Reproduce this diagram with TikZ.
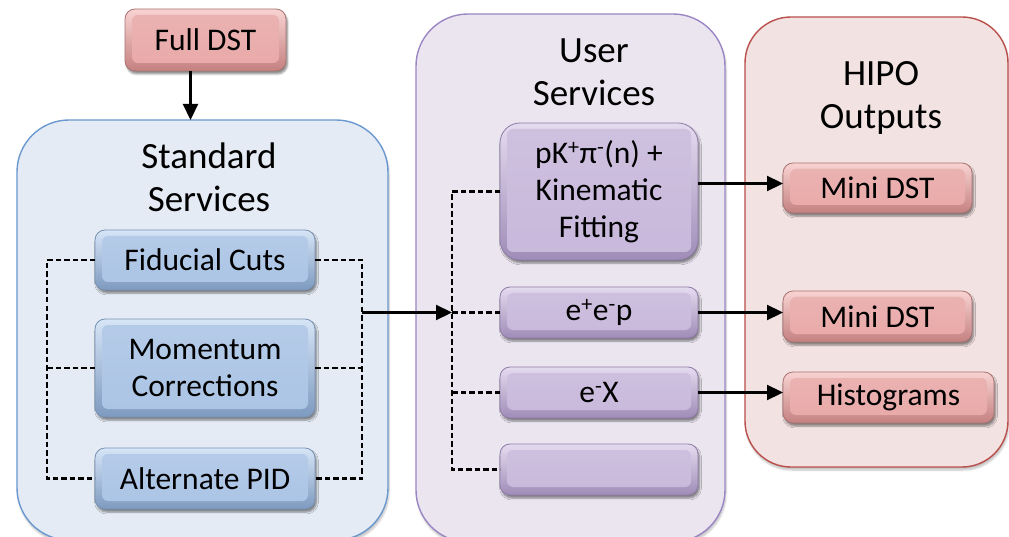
\documentclass[tikz,border=0pt]{standalone}
\usepackage{fontspec}
\setmainfont{Carlito}
\usetikzlibrary{arrows.meta,shadows.blur,calc}

\definecolor{stdFill}{HTML}{E4EBF4}
\definecolor{stdLine}{HTML}{6A99CF}
\definecolor{usrFill}{HTML}{EBE5F0}
\definecolor{usrLine}{HTML}{9B86C4}
\definecolor{hipoFill}{HTML}{F3E2E2}
\definecolor{hipoLine}{HTML}{B9504C}

\definecolor{bluTop}{HTML}{D6E5F7}
\definecolor{bluMid}{HTML}{ABC4E5}
\definecolor{bluBot}{HTML}{7E9AC0}
\definecolor{bluEdge}{HTML}{7A92B2}
\definecolor{redTop}{HTML}{F8D3D2}
\definecolor{redMid}{HTML}{E8A9A8}
\definecolor{redBot}{HTML}{C48180}
\definecolor{redEdge}{HTML}{A87372}
\definecolor{purTop}{HTML}{E4DBEF}
\definecolor{purMid}{HTML}{C8B8DB}
\definecolor{purBot}{HTML}{A08CB8}
\definecolor{purEdge}{HTML}{8E7DA6}

\tikzset{
  every node/.style={inner sep=0pt, outer sep=0pt},
  boxfont/.style={font=\fontsize{31.5}{37}\selectfont, align=center},
  titlefont/.style={font=\fontsize{37}{43}\selectfont, align=center},
  container/.style={rounded corners=52pt, line width=1.4pt,
    blur shadow={shadow xshift=1pt, shadow yshift=-3pt, shadow opacity=25, shadow blur steps=6}},
  stdcont/.style={container, fill=stdFill, draw=stdLine},
  usrcont/.style={container, fill=usrFill, draw=usrLine},
  hipocont/.style={container, fill=hipoFill, draw=hipoLine, rounded corners=46pt},
  % raised box: graded rim with a flat face inset a few points
  bevelbox/.style={boxfont, rounded corners=10pt, line width=0.8pt,
    blur shadow={shadow xshift=1.5pt, shadow yshift=-3pt, shadow opacity=45, shadow blur steps=5},
    path picture={\shade[top color=#1!88!white, bottom color=#1, rounded corners=6pt]
      ([shift={(7pt,-6pt)}]path picture bounding box.north west) rectangle
      ([shift={(-7pt,8pt)}]path picture bounding box.south east);}},
  bluebox/.style={bevelbox=bluMid, top color=bluTop, middle color=bluMid, bottom color=bluBot, draw=bluEdge},
  redbox/.style={bevelbox=redMid, top color=redTop, middle color=redMid, bottom color=redBot, draw=redEdge},
  purbox/.style={bevelbox=purMid, top color=purTop, middle color=purMid, bottom color=purBot, draw=purEdge},
  dbus/.style={draw=black, line width=2.2pt, dash pattern=on 5.5pt off 3pt},
  arr/.style={draw=black, line width=2.2pt, -{Triangle[length=16pt,width=15pt]}},
}

\begin{document}
\begin{tikzpicture}[x=1pt,y=-1pt]
\useasboundingbox (0,0) rectangle (1009,537);
\begin{scope}
\clip (0,0) rectangle (1009,537);

% containers
\node[stdcont, minimum width=371pt, minimum height=420pt] (std) at (202.5,330) {};
\node[usrcont, minimum width=309pt, minimum height=528pt] (usr) at (570.5,278) {};
\node[hipocont, minimum width=263pt, minimum height=450pt] (hipo) at (876.5,242) {};

\node[titlefont] (stdtitle) at (209,177) {Standard\\Services};
\node[titlefont] (usrtitle) at (594,72) {User\\Services};
\node[titlefont] (hipotitle) at (881,98) {HIPO\\Outputs};

% bus anchors
\coordinate (sl) at (47,0);
\coordinate (sr) at (362,0);
\coordinate (ub) at (452,0);

% standard services boxes
\node[bluebox, minimum width=220pt, minimum height=60pt] (fid) at (205,260) {Fiducial Cuts};
\node[bluebox, minimum width=220pt, minimum height=98pt] (mom) at (205,368) {Momentum\\Corrections};
\node[bluebox, minimum width=220pt, minimum height=61pt] (pid) at (205,478.5) {Alternate PID};

% input
\node[redbox, minimum width=161pt, minimum height=62pt] (full) at (205.5,40) {Full DST};

% user services boxes
\node[purbox, rounded corners=20pt, minimum width=198pt, minimum height=137pt] (pk) at (599,191.5)
  {pK\textsuperscript{+}π\textsuperscript{-}(n) +\\Kinematic\\Fitting};
\node[purbox, minimum width=198pt, minimum height=51pt] (eep) at (599,312.5) {e\textsuperscript{+}e\textsuperscript{-}p};
\node[purbox, minimum width=198pt, minimum height=51pt] (ex) at (599,392.5) {e\textsuperscript{-}X};
\node[purbox, minimum width=198pt, minimum height=51pt] (empty) at (599,469.5) {};

% outputs
\node[redbox, minimum width=189pt, minimum height=50pt] (mini1) at (877.5,188) {Mini DST};
\node[redbox, minimum width=189pt, minimum height=51pt] (mini2) at (877.5,316.5) {Mini DST};
\node[redbox, minimum width=211pt, minimum height=51pt] (hist) at (888.5,397.5) {Histograms};
\end{scope}

% dashed connectors
\draw[dbus] (fid.west) -- (fid.west -| sl) |- (pid.west);
\draw[dbus] (mom.west) -- (mom.west -| sl);
\draw[dbus] (fid.east) -- (fid.east -| sr) |- (pid.east);
\draw[dbus] (mom.east) -- (mom.east -| sr);
\draw[dbus] (pk.west) -- (pk.west -| ub) |- (empty.west);
\draw[dbus] (eep.west) -- (eep.west -| ub);
\draw[dbus] (ex.west) -- (ex.west -| ub);

% solid connectors
\coordinate (sbus) at (362,312.5);
\coordinate (ubus) at (eep.west -| ub);
\draw[arr] (sbus) -- (ubus);

\coordinate (fdown) at ([xshift=-15pt]full.south);
\draw[arr] (fdown) -- (fdown |- std.north);

\coordinate (pkout) at ([yshift=8pt]pk.east);
\draw[arr] (pkout) -- (pkout -| mini1.west);
\draw[arr] (eep.east) -- (eep.east -| mini2.west);
\draw[arr] (ex.east) -- (ex.east -| hist.west);
\end{tikzpicture}
\end{document}
